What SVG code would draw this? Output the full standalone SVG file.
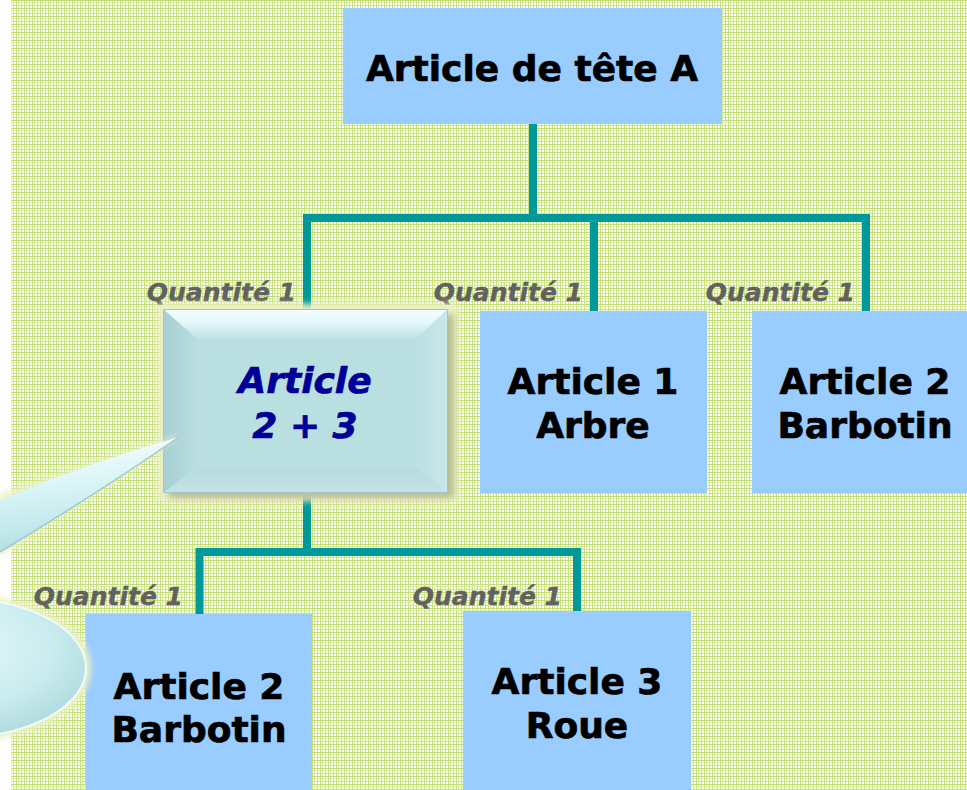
<svg xmlns="http://www.w3.org/2000/svg" width="967" height="790" viewBox="0 0 967 790">
  <defs>
    <!-- fine lime check background -->
    <pattern id="grid" width="8" height="8" patternUnits="userSpaceOnUse">
      <rect width="8" height="8" fill="#FAFDF0"/>
      <rect x="0" width="1" height="8" fill="#C4DE76"/>
      <rect x="2" width="1" height="8" fill="#DAEBA4"/>
      <rect x="5" width="1" height="8" fill="#CDE38D"/>
      <rect y="0" width="8" height="1" fill="#C4DE76"/>
      <rect y="2" width="8" height="1" fill="#DAEBA4"/>
      <rect y="5" width="8" height="1" fill="#CDE38D"/>
    </pattern>
    <linearGradient id="bevTop" x1="0" y1="0" x2="0" y2="1">
      <stop offset="0" stop-color="#F6FFFF"/>
      <stop offset="0.45" stop-color="#E4F7F9"/>
      <stop offset="1" stop-color="#BEE1E3"/>
    </linearGradient>
    <linearGradient id="bevLeft" x1="0" y1="0" x2="1" y2="0">
      <stop offset="0" stop-color="#A6CFD3"/>
      <stop offset="1" stop-color="#B9DDE0"/>
    </linearGradient>
    <linearGradient id="bevRight" x1="0" y1="0" x2="1" y2="0">
      <stop offset="0" stop-color="#BDE0E2"/>
      <stop offset="1" stop-color="#C9E7E9"/>
    </linearGradient>
    <linearGradient id="bevBottom" x1="0" y1="0" x2="0" y2="1">
      <stop offset="0" stop-color="#B7DBDE"/>
      <stop offset="1" stop-color="#C4E3E5"/>
    </linearGradient>
    <linearGradient id="tailFill" x1="0" y1="0" x2="0.2" y2="1">
      <stop offset="0" stop-color="#FFFFFF"/>
      <stop offset="0.4" stop-color="#E0F7F9"/>
      <stop offset="0.8" stop-color="#C2E8EC"/>
      <stop offset="1" stop-color="#B0DCE0"/>
    </linearGradient>
    <radialGradient id="blobFill" cx="0.4" cy="0.35" r="0.75">
      <stop offset="0" stop-color="#E8FBFC"/>
      <stop offset="0.6" stop-color="#CBEDF0"/>
      <stop offset="1" stop-color="#AAD6DA"/>
    </radialGradient>
    <filter id="soft" x="-10%" y="-10%" width="120%" height="120%">
      <feGaussianBlur stdDeviation="3"/>
    </filter>
    <style>
      .box { fill: #99CCFF; }
      .lbl { font-family: "DejaVu Sans", Verdana, sans-serif; font-weight: bold; font-size: 36px; fill: #000000; stroke: #000000; stroke-width: 0.7; text-anchor: middle; }
      .sel { font-family: "DejaVu Sans", Verdana, sans-serif; font-weight: bold; font-style: italic; font-size: 36px; fill: #000099; stroke: #000099; stroke-width: 0.7; text-anchor: middle; }
      .qty { font-family: "DejaVu Sans", Verdana, sans-serif; font-weight: bold; font-style: italic; font-size: 25px; fill: #616161; stroke: #616161; stroke-width: 0.4; text-anchor: end; }
      .link { fill: none; stroke: #009999; stroke-width: 8; stroke-linejoin: miter; }
    </style>
  </defs>

  <!-- page -->
  <rect width="967" height="790" fill="#FFFFFF"/>
  <rect x="11" y="0" width="956" height="790" fill="url(#grid)"/>

  <!-- connectors -->
  <g id="connectors">
    <path class="link" d="M533,124 V218"/>
    <path class="link" d="M307,311 V218 H866 V311"/>
    <path class="link" d="M594,218 V311"/>
    <path class="link" d="M307,493 V552"/>
    <path class="link" d="M199.5,614 V552 H577 V611"/>
  </g>

  <!-- quantity labels -->
  <g id="quantities">
    <text class="qty" x="296" y="301">Quantité 1</text>
    <text class="qty" x="583" y="301">Quantité 1</text>
    <text class="qty" x="855" y="301">Quantité 1</text>
    <text class="qty" x="183" y="605">Quantité 1</text>
    <text class="qty" x="562" y="605">Quantité 1</text>
  </g>

  <g id="head">
    <rect class="box" x="343" y="8" width="379" height="116"/>
    <text class="lbl" x="532" y="81">Article de tête A</text>
  </g>

  <g id="article23">
    <!-- halo and drop shadow -->
    <rect x="158" y="304" width="300" height="197" fill="#EDF0C6" filter="url(#soft)"/>
    <rect x="168" y="314" width="286" height="184" fill="#8E9468" opacity="0.55" filter="url(#soft)"/>
    <!-- beveled face -->
    <rect x="163" y="309" width="285" height="184" fill="#BADFE1"/>
    <polygon points="163,309 448,309 416,339 197,339" fill="url(#bevTop)"/>
    <polygon points="163,309 197,339 197,467 163,493" fill="url(#bevLeft)"/>
    <polygon points="448,309 448,493 416,467 416,339" fill="url(#bevRight)"/>
    <polygon points="163,493 197,467 416,467 448,493" fill="url(#bevBottom)"/>
    <rect x="197" y="339" width="219" height="128" fill="#BADFE1"/>
    <rect x="163.5" y="309.5" width="284" height="183" fill="none" stroke="#9FC6CB" stroke-width="1"/>
    <text class="sel" x="305" y="393">Article</text>
    <text class="sel" x="305" y="438">2 + 3</text>
  </g>

  <g id="article1">
    <rect class="box" x="480" y="311" width="227" height="182"/>
    <text class="lbl" x="593" y="394">Article 1</text>
    <text class="lbl" x="593" y="438">Arbre</text>
  </g>

  <g id="article2-top">
    <rect class="box" x="752" y="311" width="228" height="182"/>
    <text class="lbl" x="865" y="394">Article 2</text>
    <text class="lbl" x="865" y="438">Barbotin</text>
  </g>

  <g id="article2-bottom">
    <rect class="box" x="86" y="614" width="226" height="176"/>
    <text class="lbl" x="199" y="699">Article 2</text>
    <text class="lbl" x="199" y="742">Barbotin</text>
  </g>

  <g id="article3">
    <rect class="box" x="463" y="611" width="228" height="179"/>
    <text class="lbl" x="577" y="694">Article 3</text>
    <text class="lbl" x="577" y="738">Roue</text>
  </g>

  <!-- speech bubble pointing at the combined article -->
  <g id="callout">
    <path d="M0,494 L181,435 L0,556 Z" fill="#EDF0C6" filter="url(#soft)"/>
    <ellipse cx="-40" cy="668" rx="131" ry="74" fill="#EDF0C6" filter="url(#soft)"/>
    <path d="M0,500 Q90,462 179,437 Q95,495 0,552 Z" fill="url(#tailFill)"/>
    <path d="M0,552 Q95,495 179,437" stroke="#9CC8CD" stroke-width="1.5" fill="none"/>
    <ellipse cx="-40" cy="668" rx="126" ry="69" fill="url(#blobFill)" stroke="#EEFAFB" stroke-width="2"/>
  </g>
</svg>
